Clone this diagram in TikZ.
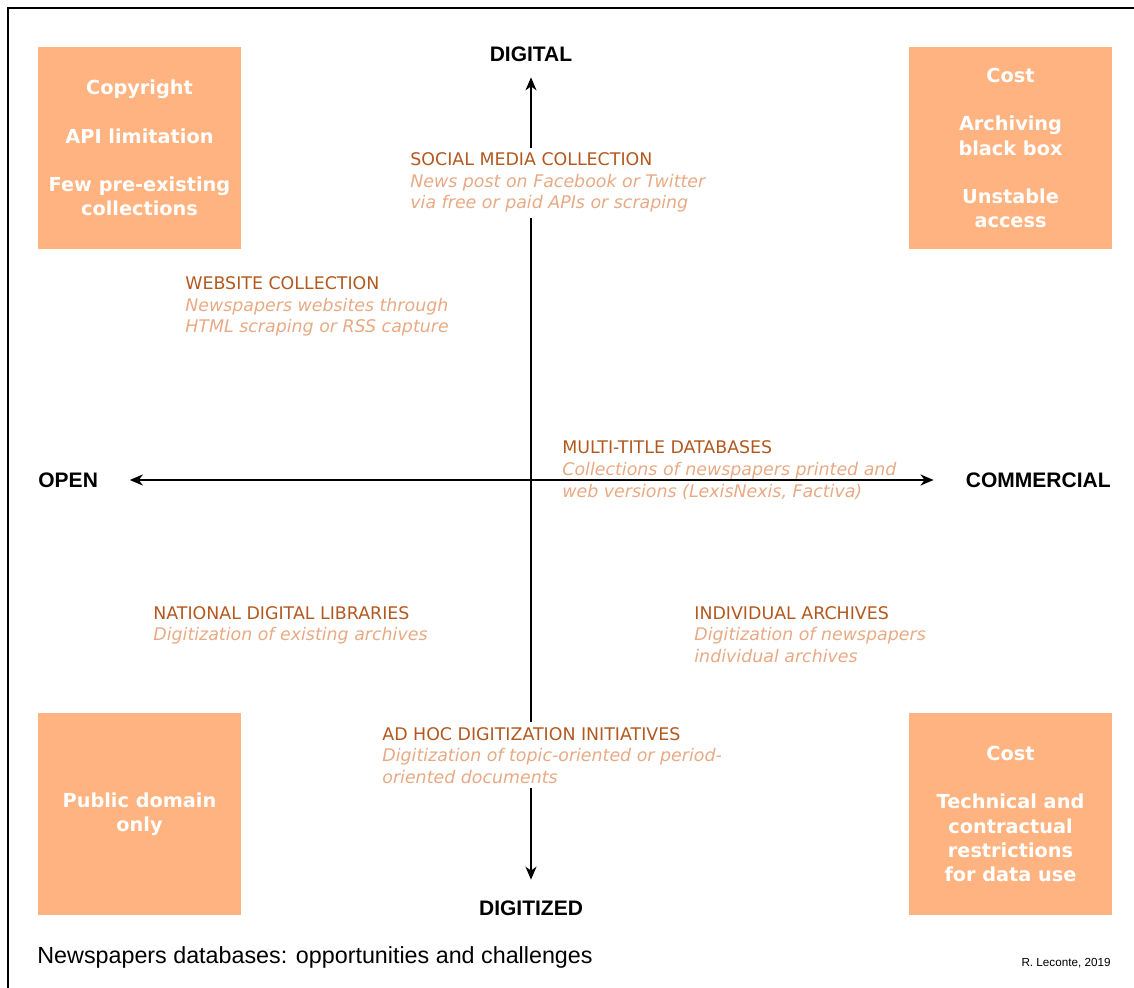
\documentclass[tikz,border=0pt]{standalone}
\usepackage{fontspec}
\setmainfont{DejaVu Sans}
\newfontfamily\arialfont{Liberation Sans}
\usetikzlibrary{arrows.meta}
\usetikzlibrary{positioning}

\definecolor{boxorange}{HTML}{FFB380}
\definecolor{headorange}{HTML}{B3581F}
\definecolor{descorange}{HTML}{E8AA84}

\newcommand{\srchead}[1]{\textcolor{headorange}{#1}}
\newcommand{\srcdesc}[1]{\textcolor{descorange}{\itshape #1}}

\tikzset{
  challenge/.style={fill=boxorange, minimum width=101.5pt, minimum height=101pt,
    inner sep=0pt, text=white, align=center,
    font=\fontsize{9.65}{12.1}\selectfont\bfseries},
  % base = baseline of the last line
  source/.style={anchor=base west, align=left, inner xsep=0pt, inner ysep=2.5pt,
    font=\fontsize{8.7}{10.75}\selectfont},
  axislabel/.style={inner sep=0pt, font=\arialfont\bfseries\fontsize{10.5}{12.6}\selectfont},
  axis/.style={line width=1pt, {Stealth[length=6.5pt,width=5.5pt,inset=2pt]}-{Stealth[length=6.5pt,width=5.5pt,inset=2pt]}},
  frame/.style={line width=1.3pt}
}

\begin{document}
\begin{tikzpicture}[x=0.5pt, y=-0.5pt]
  \useasboundingbox (0,0) rectangle (1134,988);
  \draw[frame] (8,988) |- (1134,8);

  % challenges in the corners
  \node[challenge] (tl) at (139.5,148) {Copyright\\[12.1pt]API limitation\\[12.1pt]Few pre-existing\\collections};
  \node[challenge] (tr) at (1010.5,148) {Cost\\[12.1pt]Archiving\\black box\\[12.1pt]Unstable\\access};
  \node[challenge] (bl) at (139.5,814) {Public domain\\only};
  \node[challenge] (br) at (1010.5,814) {Cost\\[12.1pt]Technical and\\contractual\\restrictions\\for data use};

  % axes
  \node[axislabel] (digital) at (531,54) {DIGITAL};
  \node[axislabel] (digitized) at (531,908) {DIGITIZED};
  \node[axislabel, anchor=west] (open) at (38,480) {OPEN};
  \node[axislabel, anchor=east] (commercial) at (1111,480) {COMMERCIAL};
  \draw[axis, shorten <=10.25pt, shorten >=7.75pt] (digitized.north) -- (digital.south);
  \draw[axis, shorten <=15.75pt, shorten >=16pt] (open.east) -- (commercial.west);

  % data sources
  \node[source, fill=white] (social) at (410,209) {\srchead{SOCIAL MEDIA COLLECTION}\\
    \srcdesc{News post on Facebook or Twitter}\\\srcdesc{via free or paid APIs or scraping}};
  \node[source] (website) at (185,333) {\srchead{WEBSITE COLLECTION}\\
    \srcdesc{Newspapers websites through}\\\srcdesc{HTML scraping or RSS capture}};
  \node[source] (multi) at (562,497) {\srchead{MULTI-TITLE DATABASES}\\
    \srcdesc{Collections of newspapers printed and}\\\srcdesc{web versions (LexisNexis, Factiva)}};
  \node[source] (national) at (153,640.5) {\srchead{NATIONAL DIGITAL LIBRARIES}\\
    \srcdesc{Digitization of existing archives}};
  \node[source] (individual) at (694,662) {\srchead{INDIVIDUAL ARCHIVES}\\
    \srcdesc{Digitization of newspapers}\\\srcdesc{individual archives}};
  \node[source, fill=white] (adhoc) at (382,783) {\srchead{AD HOC DIGITIZATION INITIATIVES}\\
    \srcdesc{Digitization of topic-oriented or period-}\\\srcdesc{oriented documents}};

  % caption
  \node[anchor=base west, inner sep=0pt, font=\arialfont\fontsize{11.65}{14}\selectfont] (caption) at (37,963)
    {Newspapers databases: opportunities and challenges};
  \node[anchor=base east, inner sep=0pt, font=\arialfont\fontsize{5.85}{7}\selectfont] (credit) at (1111,966)
    {R. Leconte, 2019};
\end{tikzpicture}
\end{document}
